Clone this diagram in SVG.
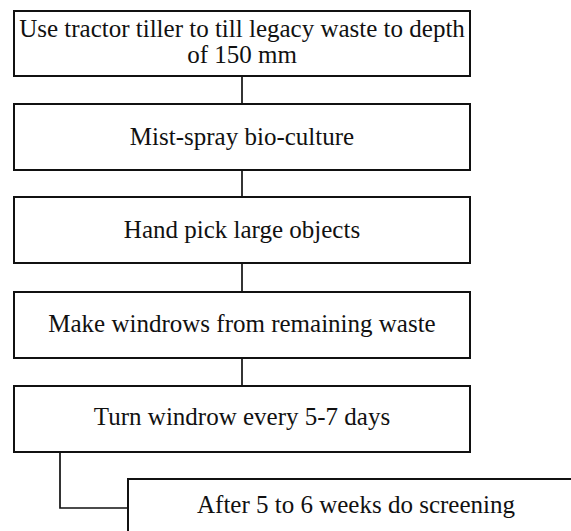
<svg xmlns="http://www.w3.org/2000/svg" width="571" height="531" viewBox="0 0 571 531">
<style>
.box{fill:#fff;stroke:#111;stroke-width:2}
.lbl{font-family:'Liberation Serif','Times New Roman','DejaVu Serif',serif;font-size:25px;fill:#111;text-anchor:middle}
.con{fill:none;stroke:#111;stroke-width:1.7}
</style>
<rect width="571" height="531" fill="#fff"/>
<g id="connectors">
<line class="con" x1="242" y1="76" x2="242" y2="104"/>
<line class="con" x1="242" y1="170" x2="242" y2="197"/>
<line class="con" x1="242" y1="263" x2="242" y2="292"/>
<line class="con" x1="242" y1="358" x2="242" y2="386"/>
<polyline class="con" points="60,452 60,508 128,508"/>
</g>
<g id="n1">
<rect class="box" x="14" y="11" width="456" height="65"/>
<text class="lbl" x="242" y="37" font-family="Liberation Serif, serif">Use tractor tiller to till legacy waste to depth</text>
<text class="lbl" x="242" y="63" font-family="Liberation Serif, serif">of 150 mm</text>
</g>
<g id="n2">
<rect class="box" x="14" y="104" width="456" height="66"/>
<text class="lbl" x="242" y="145">Mist-spray bio-culture</text>
</g>
<g id="n3">
<rect class="box" x="14" y="197" width="456" height="66"/>
<text class="lbl" x="242" y="238">Hand pick large objects</text>
</g>
<g id="n4">
<rect class="box" x="14" y="292" width="456" height="66"/>
<text class="lbl" x="242" y="332">Make windrows from remaining waste</text>
</g>
<g id="n5">
<rect class="box" x="14" y="386" width="456" height="66"/>
<text class="lbl" x="242" y="425">Turn windrow every 5-7 days</text>
</g>
<g id="n6">
<rect class="box" x="128" y="479" width="460" height="66"/>
<text class="lbl" x="356" y="513">After 5 to 6 weeks do screening</text>
</g>
</svg>
